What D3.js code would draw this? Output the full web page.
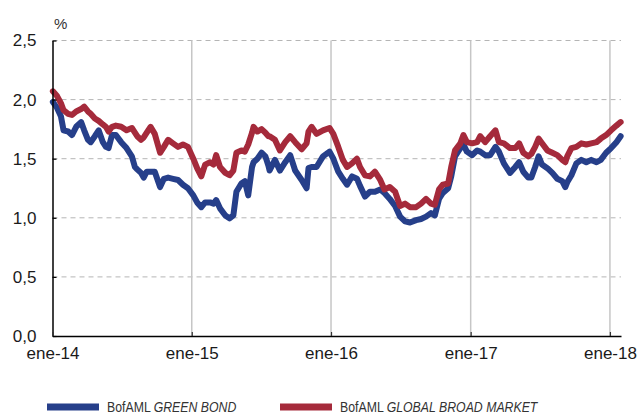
<!DOCTYPE html>
<html><head><meta charset="utf-8">
<script src="https://cdn.jsdelivr.net/npm/d3@7"></script>
<style>body{margin:0;background:#fff}svg{display:block}</style>
</head><body>
<svg id="c" width="638" height="415"></svg>
<script>
const dates = ["2014-01-02","2014-01-13","2014-01-23","2014-01-30","2014-02-11","2014-02-21","2014-03-04","2014-03-17","2014-03-25","2014-04-04","2014-04-11","2014-04-22","2014-05-02","2014-05-13","2014-05-21","2014-05-28","2014-06-06","2014-06-16","2014-06-30","2014-07-14","2014-07-28","2014-08-05","2014-08-11","2014-08-21","2014-08-28","2014-09-05","2014-09-15","2014-09-26","2014-10-10","2014-10-20","2014-10-31","2014-11-13","2014-11-26","2014-12-09","2014-12-22",
"2015-01-05","2015-01-15","2015-01-26","2015-02-05","2015-02-18","2015-02-27","2015-03-06","2015-03-16","2015-03-30","2015-04-10","2015-04-20","2015-04-28","2015-05-11","2015-05-20","2015-05-29","2015-06-08","2015-06-12","2015-06-22","2015-07-03","2015-07-13","2015-07-21","2015-07-24","2015-08-07","2015-08-20","2015-09-03","2015-09-16","2015-09-29","2015-10-16","2015-10-29","2015-11-03","2015-11-11","2015-11-24","2015-12-11","2015-12-28",
"2016-01-07","2016-01-20","2016-02-01","2016-02-12","2016-02-25","2016-03-09","2016-03-17","2016-03-30","2016-04-12","2016-04-25","2016-05-09","2016-05-20","2016-06-03","2016-06-17","2016-06-30","2016-07-13","2016-07-26","2016-08-11","2016-08-24","2016-09-06","2016-09-19","2016-09-29","2016-10-10","2016-10-20","2016-11-03","2016-11-11","2016-11-21","2016-12-05","2016-12-13","2016-12-22",
"2017-01-05","2017-01-18","2017-01-26","2017-02-08","2017-02-21","2017-03-07","2017-03-16","2017-03-29","2017-04-14","2017-04-28","2017-05-08","2017-05-19","2017-06-01","2017-06-09","2017-06-19","2017-06-28","2017-07-07","2017-07-21","2017-08-03","2017-08-16","2017-08-29","2017-09-06","2017-09-11","2017-09-22","2017-10-05","2017-10-18","2017-10-31","2017-11-13","2017-11-27","2017-12-08","2017-12-22",
"2018-01-04","2018-01-18","2018-01-29"];

const globalBroad = [2.07,2.03,1.97,1.91,1.88,1.87,1.90,1.92,1.94,1.90,1.88,1.84,1.82,1.79,1.77,1.73,1.77,1.78,1.77,1.74,1.76,1.72,1.69,1.66,1.68,1.72,1.77,1.71,1.55,1.60,1.66,1.63,1.60,1.62,1.60,
1.50,1.42,1.35,1.45,1.47,1.45,1.53,1.43,1.38,1.36,1.40,1.55,1.57,1.56,1.62,1.72,1.77,1.73,1.75,1.72,1.69,1.69,1.66,1.57,1.64,1.69,1.64,1.58,1.63,1.73,1.77,1.71,1.74,1.76,
1.71,1.60,1.49,1.43,1.46,1.50,1.43,1.36,1.35,1.39,1.32,1.24,1.26,1.22,1.10,1.12,1.09,1.09,1.12,1.16,1.12,1.11,1.24,1.28,1.29,1.43,1.57,1.63,1.70,1.64,
1.63,1.64,1.69,1.64,1.69,1.74,1.64,1.63,1.59,1.59,1.63,1.55,1.52,1.54,1.60,1.67,1.63,1.57,1.55,1.53,1.49,1.47,1.52,1.59,1.60,1.63,1.62,1.63,1.64,1.67,1.70,
1.74,1.78,1.81];

const greenBond = [1.98,1.93,1.86,1.74,1.73,1.70,1.77,1.81,1.74,1.66,1.64,1.69,1.74,1.64,1.60,1.59,1.70,1.70,1.64,1.59,1.52,1.43,1.41,1.38,1.34,1.39,1.39,1.39,1.26,1.33,1.34,1.33,1.32,1.28,1.25,
1.19,1.13,1.09,1.13,1.13,1.12,1.15,1.08,1.02,0.995,1.02,1.22,1.29,1.31,1.19,1.43,1.47,1.50,1.55,1.52,1.44,1.40,1.49,1.40,1.47,1.53,1.40,1.32,1.25,1.42,1.43,1.43,1.52,1.56,
1.50,1.39,1.33,1.28,1.35,1.33,1.27,1.18,1.22,1.22,1.24,1.21,1.16,1.10,1.01,0.97,0.96,0.98,0.99,1.01,1.04,1.02,1.16,1.21,1.25,1.35,1.52,1.59,1.62,1.56,
1.53,1.57,1.56,1.53,1.53,1.60,1.56,1.46,1.38,1.43,1.47,1.39,1.34,1.34,1.43,1.52,1.45,1.42,1.38,1.33,1.31,1.26,1.30,1.36,1.46,1.49,1.47,1.49,1.47,1.49,1.55,
1.59,1.64,1.69];

const yTicks = [0, 0.5, 1.0, 1.5, 2.0, 2.5];
const xTickDates = ["2014-01-01","2015-01-01","2016-01-01","2017-01-01","2018-01-01"];
const xTickLabels = ["ene-14","ene-15","ene-16","ene-17","ene-18"];
const seriesNames = [["BofAML ","GREEN BOND"],["BofAML ","GLOBAL BROAD MARKET"]];
const colors = ["#263f8a","#a52a3b"];

const parse = d3.timeParse("%Y-%m-%d");
const svg = d3.select("#c");
const x = d3.scaleTime().domain([parse("2014-01-01"), parse("2018-01-30")]).range([52.5, 621]);
const y = d3.scaleLinear().domain([0, 2.5]).range([336, 40.5]);
const x0 = x.range()[0], x1 = x.range()[1];

svg.append("g").selectAll("line").data(yTicks.filter(d => d > 0)).join("line")
  .attr("x1", x0).attr("x2", x1).attr("y1", d => y(d)).attr("y2", d => y(d))
  .attr("stroke", "#b5b5b5").attr("stroke-width", 1).attr("stroke-dasharray", "5,4");
svg.append("g").selectAll("line").data(xTickDates.slice(1).map(parse)).join("line")
  .attr("x1", d => x(d)).attr("x2", d => x(d)).attr("y1", y(2.5)).attr("y2", y(0))
  .attr("stroke", "#c6c6c6").attr("stroke-width", 1.5);

const rows = dates.map((d, i) => ({date: parse(d), g: greenBond[i], b: globalBroad[i]}));
const lineG = d3.line().x(d => x(d.date)).y(d => y(d.g));
const lineB = d3.line().x(d => x(d.date)).y(d => y(d.b));
svg.append("path").datum(rows).attr("d", lineG).attr("fill", "none")
  .attr("stroke", colors[0]).attr("stroke-width", 6).attr("stroke-linejoin", "round").attr("stroke-linecap", "round");
svg.append("path").datum(rows).attr("d", lineB).attr("fill", "none")
  .attr("stroke", colors[1]).attr("stroke-width", 6).attr("stroke-linejoin", "round").attr("stroke-linecap", "round");

const fmt = d => d3.format(".1f")(d).replace(".", ",");
const ya = svg.append("g").attr("transform", `translate(${x0},0)`)
  .call(d3.axisLeft(y).tickValues(yTicks).tickSize(-4).tickSizeOuter(0).tickPadding(16).tickFormat(fmt));
ya.select(".domain").attr("stroke", "#000").attr("stroke-width", 1.5);
ya.selectAll(".tick line").attr("stroke", "#000").attr("stroke-width", 1.2);
ya.selectAll("text").attr("font-family", "Liberation Sans, Arial, sans-serif").attr("font-size", 17).attr("fill", "#1a1a1a");

const xa = svg.append("g").attr("transform", `translate(0,${y(0)})`)
  .call(d3.axisBottom(x).tickValues(xTickDates.map(parse)).tickSize(-4).tickSizeOuter(0).tickPadding(11)
    .tickFormat((d, i) => xTickLabels[i]));
xa.select(".domain").attr("stroke", "#000").attr("stroke-width", 1.5);
xa.selectAll(".tick line").attr("stroke", "#333").attr("stroke-width", 1.2);
xa.selectAll("text").attr("font-family", "Liberation Sans, Arial, sans-serif").attr("font-size", 17).attr("fill", "#1a1a1a");

svg.append("text").attr("x", 54).attr("y", 29).text("%")
  .attr("font-family", "Liberation Sans, Arial, sans-serif").attr("font-size", 15).attr("fill", "#333");

const legX = [47, 280];
seriesNames.forEach((n, i) => {
  svg.append("line").attr("x1", legX[i]).attr("x2", legX[i] + 52).attr("y1", 407).attr("y2", 407)
    .attr("stroke", colors[i]).attr("stroke-width", 7);
  const t = svg.append("text").attr("transform", `translate(${legX[i] + 60},412) scale(0.82,1)`)
    .attr("font-family", "Liberation Sans, Arial, sans-serif").attr("font-size", 15).attr("fill", "#333");
  t.append("tspan").text(n[0]);
  t.append("tspan").attr("font-style", "italic").text(n[1]);
});
</script>
</body></html>
